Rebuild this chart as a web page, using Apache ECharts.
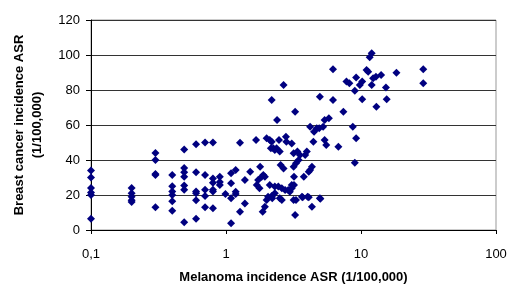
<!DOCTYPE html>
<html>
<head>
<meta charset="utf-8">
<script src="https://cdn.jsdelivr.net/npm/echarts@6/dist/echarts.min.js"></script>
<style>
  html, body { margin: 0; padding: 0; background: #fff; }
  #chart { width: 507px; height: 286px; }
</style>
</head>
<body>
<div id="chart"></div>
<script>
// melanoma ASR (x, log scale) and breast cancer ASR (y)
var melanoma = [
  0.1, 0.1, 0.1, 0.1, 0.1, 0.1,
  0.2, 0.2, 0.2, 0.2, 0.2,
  0.3, 0.3, 0.3, 0.3, 0.3,
  0.4, 0.4, 0.4, 0.4, 0.4, 0.4,
  0.49, 0.49, 0.49, 0.49, 0.49, 0.49, 0.49,
  0.6, 0.6, 0.6, 0.6, 0.6, 0.6,
  0.7, 0.7, 0.7, 0.7, 0.7,
  0.8, 0.8, 0.8, 0.8, 0.8, 0.8,
  0.9, 0.9, 0.9, 0.99,
  1.09, 1.09, 1.09, 1.09,
  1.18, 1.18, 1.18,
  1.27, 1.27, 1.38, 1.38, 1.51, 1.67, 1.69, 1.77, 1.79, 1.84, 1.89, 1.94,
  1.87, 1.94, 2.0, 2.0, 2.05, 2.11, 2.11, 2.15, 2.18, 2.2,
  2.24, 2.3, 2.37, 2.3, 2.39, 2.44, 2.47, 2.5, 2.54, 2.59, 2.59,
  2.67, 2.67, 2.74, 2.78, 2.8, 2.89, 2.97, 3.07, 3.07,
  3.17, 3.17, 3.19, 3.19, 3.25, 3.25, 3.3, 3.3, 3.38, 3.45, 3.53,
  3.65, 3.77, 3.86, 3.97, 4.02, 4.1, 4.2, 4.2, 4.33, 4.33,
  4.44, 4.49, 4.7, 4.9, 4.96, 4.96, 5.24, 5.38, 5.38, 5.53, 5.78,
  6.2, 6.2, 6.8, 7.4, 7.8, 8.2, 8.7, 9.0, 9.0, 9.2, 9.2, 9.8,
  10.2, 10.2, 11.0, 11.3, 11.6, 12.0, 12.0, 12.3, 13.0, 12.9,
  14.1, 15.3, 15.5, 18.3, 28.9, 28.9,
  2.3, 3.07, 1.73, 2.18, 2.5, 3.17, 2.18, 3.7, 4.1, 5.0
];
var breast = [
  34, 30, 24, 21.5, 20, 6.5,
  24, 21, 19, 17, 16,
  44, 40, 32, 31.5, 13,
  31.5, 25, 22, 20, 16.5, 11,
  46, 35.5, 33, 30.5, 25.5, 23, 4.5,
  49, 33, 22, 21, 17, 6.5,
  50, 31.5, 23, 19.5, 13,
  50, 29.5, 27, 23, 22, 12.5,
  30.5, 27.5, 25.7, 20.6,
  32.4, 26.7, 18.1, 3.8,
  34.3, 21.9, 20.6,
  10.5, 49.9, 28.6, 15.2, 33.3, 51.4, 25.7, 23.8, 36.2, 30.5, 31.4, 30.5,
  10.5, 13.3, 17.1, 52.4, 19, 25.7, 51.4, 46.7, 74.3, 18.1,
  46.7, 45.7, 46.7, 21, 62.9, 24.8, 51.4, 44.8, 37.1, 23.8, 17.1,
  35.2, 82.9, 22.9, 53.3, 50.5, 22.9, 21.9, 49.5, 23.8,
  43.8, 36.2, 30.5, 25.7, 8.6, 67.6, 17.1, 38.1, 44.8, 40, 42.9,
  19, 30.5, 42.9, 44.8, 19, 33.3, 34.3, 59, 36.2, 13.3,
  50.5, 56.2, 58.1, 58.1, 76.2, 18.1, 59, 62.9, 51.4, 48.6, 63.8,
  74.3, 91.8, 47.6, 67.6, 84.8, 83.8, 59, 79.6, 38.5, 87.2, 52.4, 82.9,
  84.8, 74.7, 91.4, 90.5, 98.7, 101, 82.9, 86.7, 70.5, 87.6,
  88.6, 81.5, 74.7, 89.9, 91.8, 83.8,
  24.8, 25.7, 28.6, 19.4, 18.1, 17.1, 50.5, 18.7, 18.7, 17.9
];
var xTicks = { '0.1': '0,1', '1': '1', '10': '10', '100': '100' };

var points = melanoma.map(function (m, i) { return [m, breast[i]]; });

var chart = echarts.init(document.getElementById('chart'));
chart.setOption({
  animation: false,
  backgroundColor: '#fff',
  grid: {
    left: 91, right: 11, top: 20, bottom: 56,
    outerBoundsMode: 'none',
    show: true, borderColor: '#999', borderWidth: 1
  },
  xAxis: {
    type: 'log',
    logBase: 10,
    min: 0.1,
    max: 100,
    name: 'Melanoma incidence ASR (1/100,000)',
    nameLocation: 'middle',
    nameGap: 41,
    nameTextStyle: { fontFamily: 'Liberation Sans', fontWeight: 'bold', fontSize: 13, color: '#000' },
    axisLine: { onZero: false, lineStyle: { color: '#000' } },
    axisTick: { show: true, length: 4, lineStyle: { color: '#000' } },
    minorTick: { show: false },
    splitLine: { show: false },
    axisLabel: {
      margin: 18,
      fontFamily: 'Liberation Sans', fontSize: 13, color: '#000',
      formatter: function (v) {
        var k = String(Math.round(v * 10) / 10);
        return xTicks[k] !== undefined ? xTicks[k] : k;
      }
    }
  },
  yAxis: {
    type: 'value',
    min: 0,
    max: 120,
    interval: 20,
    name: 'Breast cancer incidence ASR\n(1/100,000)',
    nameLocation: 'middle',
    nameRotate: 90,
    nameGap: 45,
    nameTextStyle: { fontFamily: 'Liberation Sans', fontWeight: 'bold', fontSize: 13, color: '#000', lineHeight: 18 },
    axisLine: { show: true, lineStyle: { color: '#000' } },
    axisTick: { show: true, length: 5, lineStyle: { color: '#000' } },
    splitLine: { show: true, lineStyle: { color: '#333', width: 1 } },
    axisLabel: { margin: 11, fontFamily: 'Liberation Sans', fontSize: 13, color: '#000' }
  },
  series: [{
    type: 'scatter',
    symbol: 'diamond',
    symbolSize: 8,
    itemStyle: { color: '#000080', opacity: 1 },
    data: points
  }]
});
</script>
</body>
</html>
